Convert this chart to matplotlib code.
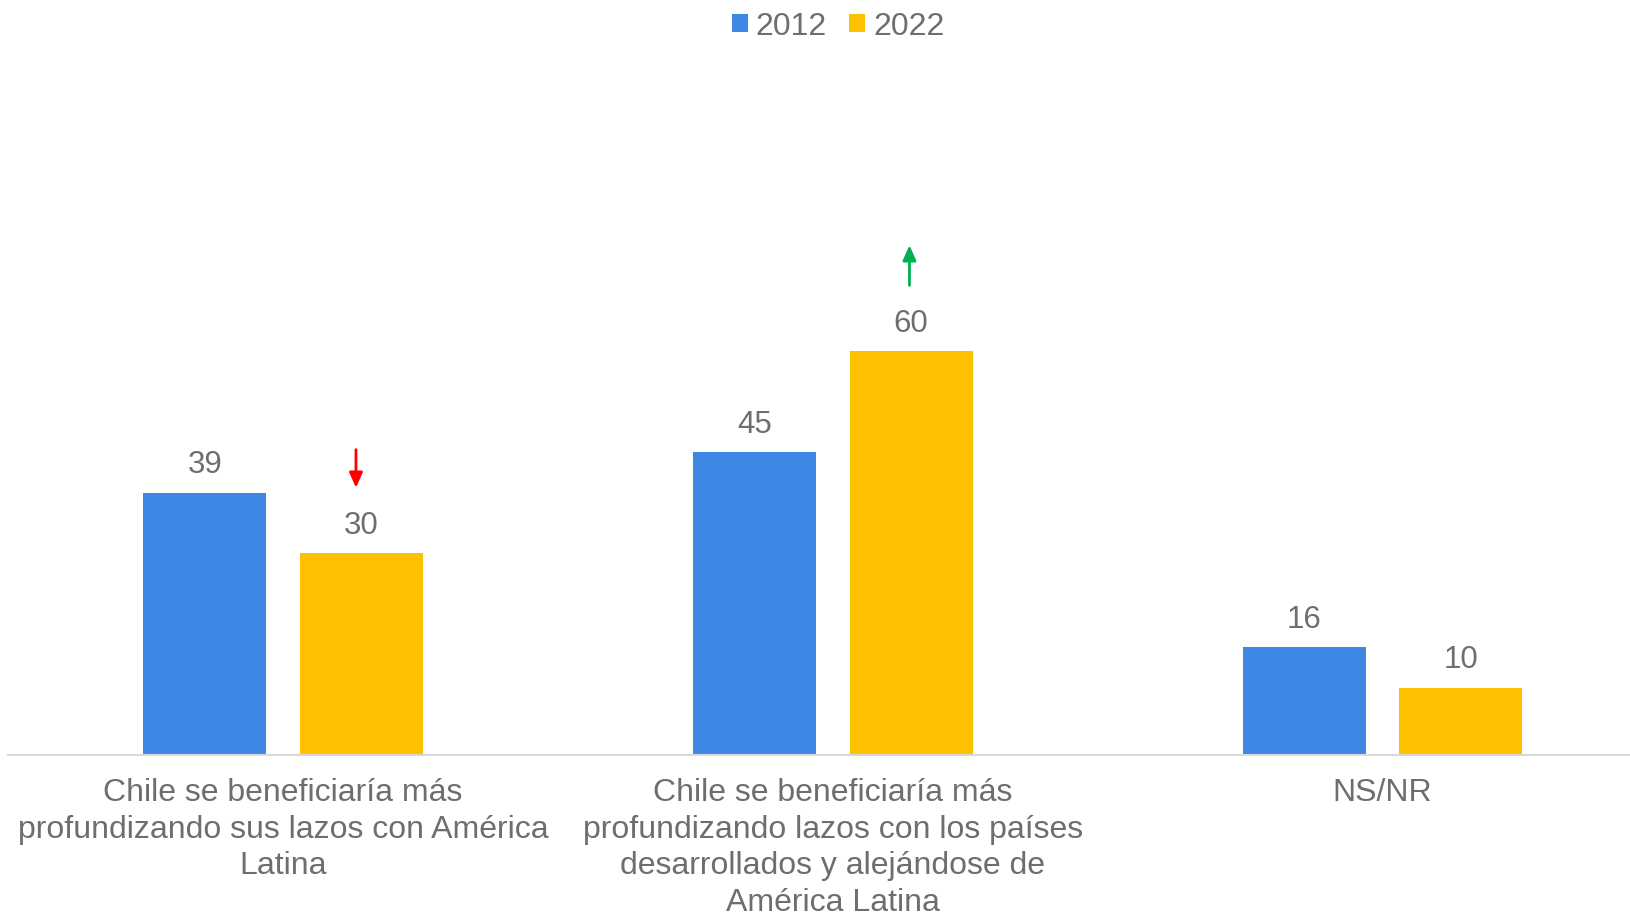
import matplotlib
matplotlib.use('Agg')
from matplotlib import pyplot as plt
import numpy as np

categories = [
    "Chile se beneficiaría más\nprofundizando sus lazos con América\nLatina",
    "Chile se beneficiaría más\nprofundizando lazos con los países\ndesarrollados y alejándose de\nAmérica Latina",
    "NS/NR",
]
years = ["2012", "2022"]
values_2012 = [39, 45, 16]
values_2022 = [30, 60, 10]

blue = "#3D88E4"
yellow = "#FFC000"
grey_text = "#6E6E6E"

plt.rcParams['font.family'] = ['Liberation Sans', 'DejaVu Sans']

fig = plt.figure(figsize=(16.31, 9.18), dpi=100, facecolor="white")
ax = fig.add_axes([0.0051, 0.1778, 1.011, 0.7324])

ind = np.arange(len(categories))
offset = 0.1425
width = 0.2235
b1 = ax.bar(ind - offset, values_2012, width=width, color=blue, label=years[0], linewidth=0)
b2 = ax.bar(ind + offset, values_2022, width=width, color=yellow, label=years[1], linewidth=0)

for bars in (b1, b2):
    for rect in bars:
        h = rect.get_height()
        ax.annotate(f"{h:g}", (rect.get_x() + rect.get_width() / 2, h),
                    xytext=(0, 9), textcoords="offset points",
                    ha="center", va="bottom", fontsize=22.5, color=grey_text)

# change arrows
ax.annotate("", xy=(ind[0] + offset - 0.01, values_2022[0] + 9.3),
            xytext=(ind[0] + offset - 0.01, values_2022[0] + 15.8),
            arrowprops=dict(arrowstyle="-|>,head_width=0.4,head_length=0.9",
                            color="#FF0000", lw=2))
ax.annotate("", xy=(ind[1] + offset - 0.003, values_2022[1] + 16.2),
            xytext=(ind[1] + offset - 0.003, values_2022[1] + 9.4),
            arrowprops=dict(arrowstyle="-|>,head_width=0.4,head_length=0.9",
                            color="#00B050", lw=2))

ax.set_xlim(-0.5, 2.5)
ax.set_ylim(0, 100)
ax.set_xticks(ind)
ax.set_xticklabels(categories, fontsize=23, color=grey_text, linespacing=1.28)
ax.tick_params(axis='x', length=0, pad=17)
ax.set_yticks([])

for s in ['top', 'right', 'left']:
    ax.spines[s].set_visible(False)
ax.spines['bottom'].set_color("#D9D9D9")
ax.spines['bottom'].set_linewidth(1.5)

fig.legend(loc="center", bbox_to_anchor=(0.514, 0.971), ncol=2, frameon=False,
           fontsize=23, labelcolor=grey_text, handlelength=0.5, handleheight=0.5,
           handletextpad=0.25, columnspacing=0.7)

plt.savefig("out.png", facecolor="white")
